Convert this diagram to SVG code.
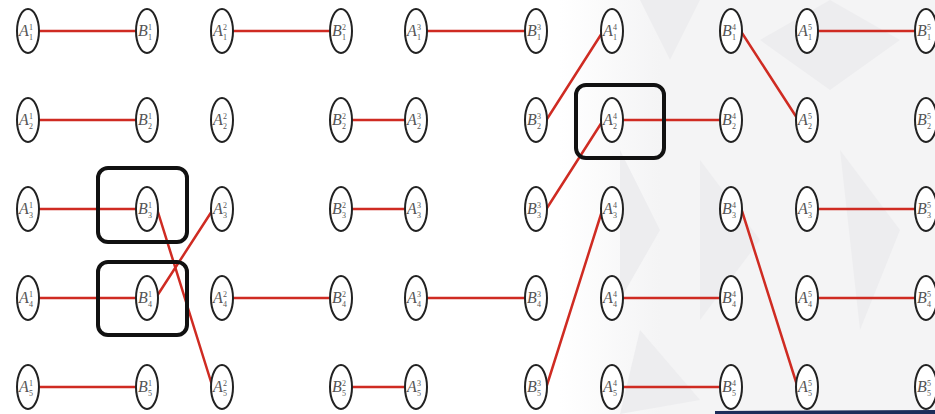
<svg xmlns="http://www.w3.org/2000/svg" width="935" height="414" viewBox="0 0 935 414">
<style>
.L{font-family:"Liberation Serif",serif;font-style:italic;font-size:16px;fill:#555}
.s{font-family:"Liberation Serif",serif;font-size:8px;fill:#555}
.e line{stroke:#cf2b22;stroke-width:2.5;stroke-linecap:round}
.box{fill:none;stroke:#111;stroke-width:4}
.bg2{fill:#ededef}
</style>
<defs>
<ellipse id="ov" rx="11" ry="22" fill="#fff" stroke="#222" stroke-width="2"/>
<linearGradient id="fade" x1="560" y1="0" x2="660" y2="0" gradientUnits="userSpaceOnUse">
<stop offset="0" stop-color="#f4f4f5" stop-opacity="0"/>
<stop offset="1" stop-color="#f4f4f5" stop-opacity="1"/>
</linearGradient>
</defs>
<rect width="935" height="414" fill="#fff"/>
<g id="background">
<rect x="560" y="0" width="375" height="414" fill="url(#fade)"/>
<polygon class="bg2" points="640,0 700,0 670,60"/>
<polygon class="bg2" points="760,40 830,0 900,40 830,90"/>
<polygon class="bg2" points="620,150 660,230 620,300"/>
<polygon class="bg2" points="700,160 760,240 700,320"/>
<polygon class="bg2" points="840,150 900,230 860,330"/>
<polygon class="bg2" points="640,330 700,400 620,414"/>
<polygon fill="#1c2d5a" points="715,411 935,410 935,414 715,414"/>
</g>
<g id="connectors" class="e">
<line x1="39" y1="31" x2="136" y2="31"/>
<line x1="39" y1="120" x2="136" y2="120"/>
<line x1="39" y1="209" x2="136" y2="209"/>
<line x1="39" y1="298" x2="136" y2="298"/>
<line x1="39" y1="387" x2="136" y2="387"/>
<line x1="157" y1="209" x2="212" y2="385"/>
<line x1="157" y1="296" x2="212" y2="211"/>
<line x1="233" y1="31" x2="330" y2="31"/>
<line x1="233" y1="298" x2="330" y2="298"/>
<line x1="352" y1="120" x2="405" y2="120"/>
<line x1="352" y1="209" x2="405" y2="209"/>
<line x1="352" y1="387" x2="405" y2="387"/>
<line x1="427" y1="31" x2="525" y2="31"/>
<line x1="427" y1="298" x2="525" y2="298"/>
<line x1="547" y1="119" x2="602" y2="33"/>
<line x1="547" y1="208" x2="602" y2="122"/>
<line x1="547" y1="385" x2="602" y2="211"/>
<line x1="623" y1="120" x2="720" y2="120"/>
<line x1="623" y1="298" x2="720" y2="298"/>
<line x1="623" y1="387" x2="720" y2="387"/>
<line x1="742" y1="33" x2="797" y2="118"/>
<line x1="742" y1="211" x2="797" y2="385"/>
<line x1="818" y1="31" x2="915" y2="31"/>
<line x1="818" y1="209" x2="915" y2="209"/>
<line x1="818" y1="298" x2="915" y2="298"/>
</g>
<g id="nodes">
<g id="A1_1" transform="translate(28,31)"><use href="#ov"/><text class="L" x="-9" y="5">A</text><text class="s" x="1" y="-1">1</text><text class="s" x="1" y="9">1</text></g>
<g id="A1_2" transform="translate(28,120)"><use href="#ov"/><text class="L" x="-9" y="5">A</text><text class="s" x="1" y="-1">1</text><text class="s" x="1" y="9">2</text></g>
<g id="A1_3" transform="translate(28,209)"><use href="#ov"/><text class="L" x="-9" y="5">A</text><text class="s" x="1" y="-1">1</text><text class="s" x="1" y="9">3</text></g>
<g id="A1_4" transform="translate(28,298)"><use href="#ov"/><text class="L" x="-9" y="5">A</text><text class="s" x="1" y="-1">1</text><text class="s" x="1" y="9">4</text></g>
<g id="A1_5" transform="translate(28,387)"><use href="#ov"/><text class="L" x="-9" y="5">A</text><text class="s" x="1" y="-1">1</text><text class="s" x="1" y="9">5</text></g>
<g id="B1_1" transform="translate(147,31)"><use href="#ov"/><text class="L" x="-9" y="5">B</text><text class="s" x="1" y="-1">1</text><text class="s" x="1" y="9">1</text></g>
<g id="B1_2" transform="translate(147,120)"><use href="#ov"/><text class="L" x="-9" y="5">B</text><text class="s" x="1" y="-1">1</text><text class="s" x="1" y="9">2</text></g>
<g id="B1_3" transform="translate(147,209)"><use href="#ov"/><text class="L" x="-9" y="5">B</text><text class="s" x="1" y="-1">1</text><text class="s" x="1" y="9">3</text></g>
<g id="B1_4" transform="translate(147,298)"><use href="#ov"/><text class="L" x="-9" y="5">B</text><text class="s" x="1" y="-1">1</text><text class="s" x="1" y="9">4</text></g>
<g id="B1_5" transform="translate(147,387)"><use href="#ov"/><text class="L" x="-9" y="5">B</text><text class="s" x="1" y="-1">1</text><text class="s" x="1" y="9">5</text></g>
<g id="A2_1" transform="translate(222,31)"><use href="#ov"/><text class="L" x="-9" y="5">A</text><text class="s" x="1" y="-1">2</text><text class="s" x="1" y="9">1</text></g>
<g id="A2_2" transform="translate(222,120)"><use href="#ov"/><text class="L" x="-9" y="5">A</text><text class="s" x="1" y="-1">2</text><text class="s" x="1" y="9">2</text></g>
<g id="A2_3" transform="translate(222,209)"><use href="#ov"/><text class="L" x="-9" y="5">A</text><text class="s" x="1" y="-1">2</text><text class="s" x="1" y="9">3</text></g>
<g id="A2_4" transform="translate(222,298)"><use href="#ov"/><text class="L" x="-9" y="5">A</text><text class="s" x="1" y="-1">2</text><text class="s" x="1" y="9">4</text></g>
<g id="A2_5" transform="translate(222,387)"><use href="#ov"/><text class="L" x="-9" y="5">A</text><text class="s" x="1" y="-1">2</text><text class="s" x="1" y="9">5</text></g>
<g id="B2_1" transform="translate(341,31)"><use href="#ov"/><text class="L" x="-9" y="5">B</text><text class="s" x="1" y="-1">2</text><text class="s" x="1" y="9">1</text></g>
<g id="B2_2" transform="translate(341,120)"><use href="#ov"/><text class="L" x="-9" y="5">B</text><text class="s" x="1" y="-1">2</text><text class="s" x="1" y="9">2</text></g>
<g id="B2_3" transform="translate(341,209)"><use href="#ov"/><text class="L" x="-9" y="5">B</text><text class="s" x="1" y="-1">2</text><text class="s" x="1" y="9">3</text></g>
<g id="B2_4" transform="translate(341,298)"><use href="#ov"/><text class="L" x="-9" y="5">B</text><text class="s" x="1" y="-1">2</text><text class="s" x="1" y="9">4</text></g>
<g id="B2_5" transform="translate(341,387)"><use href="#ov"/><text class="L" x="-9" y="5">B</text><text class="s" x="1" y="-1">2</text><text class="s" x="1" y="9">5</text></g>
<g id="A3_1" transform="translate(416,31)"><use href="#ov"/><text class="L" x="-9" y="5">A</text><text class="s" x="1" y="-1">3</text><text class="s" x="1" y="9">1</text></g>
<g id="A3_2" transform="translate(416,120)"><use href="#ov"/><text class="L" x="-9" y="5">A</text><text class="s" x="1" y="-1">3</text><text class="s" x="1" y="9">2</text></g>
<g id="A3_3" transform="translate(416,209)"><use href="#ov"/><text class="L" x="-9" y="5">A</text><text class="s" x="1" y="-1">3</text><text class="s" x="1" y="9">3</text></g>
<g id="A3_4" transform="translate(416,298)"><use href="#ov"/><text class="L" x="-9" y="5">A</text><text class="s" x="1" y="-1">3</text><text class="s" x="1" y="9">4</text></g>
<g id="A3_5" transform="translate(416,387)"><use href="#ov"/><text class="L" x="-9" y="5">A</text><text class="s" x="1" y="-1">3</text><text class="s" x="1" y="9">5</text></g>
<g id="B3_1" transform="translate(536,31)"><use href="#ov"/><text class="L" x="-9" y="5">B</text><text class="s" x="1" y="-1">3</text><text class="s" x="1" y="9">1</text></g>
<g id="B3_2" transform="translate(536,120)"><use href="#ov"/><text class="L" x="-9" y="5">B</text><text class="s" x="1" y="-1">3</text><text class="s" x="1" y="9">2</text></g>
<g id="B3_3" transform="translate(536,209)"><use href="#ov"/><text class="L" x="-9" y="5">B</text><text class="s" x="1" y="-1">3</text><text class="s" x="1" y="9">3</text></g>
<g id="B3_4" transform="translate(536,298)"><use href="#ov"/><text class="L" x="-9" y="5">B</text><text class="s" x="1" y="-1">3</text><text class="s" x="1" y="9">4</text></g>
<g id="B3_5" transform="translate(536,387)"><use href="#ov"/><text class="L" x="-9" y="5">B</text><text class="s" x="1" y="-1">3</text><text class="s" x="1" y="9">5</text></g>
<g id="A4_1" transform="translate(612,31)"><use href="#ov"/><text class="L" x="-9" y="5">A</text><text class="s" x="1" y="-1">4</text><text class="s" x="1" y="9">1</text></g>
<g id="A4_2" transform="translate(612,120)"><use href="#ov"/><text class="L" x="-9" y="5">A</text><text class="s" x="1" y="-1">4</text><text class="s" x="1" y="9">2</text></g>
<g id="A4_3" transform="translate(612,209)"><use href="#ov"/><text class="L" x="-9" y="5">A</text><text class="s" x="1" y="-1">4</text><text class="s" x="1" y="9">3</text></g>
<g id="A4_4" transform="translate(612,298)"><use href="#ov"/><text class="L" x="-9" y="5">A</text><text class="s" x="1" y="-1">4</text><text class="s" x="1" y="9">4</text></g>
<g id="A4_5" transform="translate(612,387)"><use href="#ov"/><text class="L" x="-9" y="5">A</text><text class="s" x="1" y="-1">4</text><text class="s" x="1" y="9">5</text></g>
<g id="B4_1" transform="translate(731,31)"><use href="#ov"/><text class="L" x="-9" y="5">B</text><text class="s" x="1" y="-1">4</text><text class="s" x="1" y="9">1</text></g>
<g id="B4_2" transform="translate(731,120)"><use href="#ov"/><text class="L" x="-9" y="5">B</text><text class="s" x="1" y="-1">4</text><text class="s" x="1" y="9">2</text></g>
<g id="B4_3" transform="translate(731,209)"><use href="#ov"/><text class="L" x="-9" y="5">B</text><text class="s" x="1" y="-1">4</text><text class="s" x="1" y="9">3</text></g>
<g id="B4_4" transform="translate(731,298)"><use href="#ov"/><text class="L" x="-9" y="5">B</text><text class="s" x="1" y="-1">4</text><text class="s" x="1" y="9">4</text></g>
<g id="B4_5" transform="translate(731,387)"><use href="#ov"/><text class="L" x="-9" y="5">B</text><text class="s" x="1" y="-1">4</text><text class="s" x="1" y="9">5</text></g>
<g id="A5_1" transform="translate(807,31)"><use href="#ov"/><text class="L" x="-9" y="5">A</text><text class="s" x="1" y="-1">5</text><text class="s" x="1" y="9">1</text></g>
<g id="A5_2" transform="translate(807,120)"><use href="#ov"/><text class="L" x="-9" y="5">A</text><text class="s" x="1" y="-1">5</text><text class="s" x="1" y="9">2</text></g>
<g id="A5_3" transform="translate(807,209)"><use href="#ov"/><text class="L" x="-9" y="5">A</text><text class="s" x="1" y="-1">5</text><text class="s" x="1" y="9">3</text></g>
<g id="A5_4" transform="translate(807,298)"><use href="#ov"/><text class="L" x="-9" y="5">A</text><text class="s" x="1" y="-1">5</text><text class="s" x="1" y="9">4</text></g>
<g id="A5_5" transform="translate(807,387)"><use href="#ov"/><text class="L" x="-9" y="5">A</text><text class="s" x="1" y="-1">5</text><text class="s" x="1" y="9">5</text></g>
<g id="B5_1" transform="translate(926,31)"><use href="#ov"/><text class="L" x="-9" y="5">B</text><text class="s" x="1" y="-1">5</text><text class="s" x="1" y="9">1</text></g>
<g id="B5_2" transform="translate(926,120)"><use href="#ov"/><text class="L" x="-9" y="5">B</text><text class="s" x="1" y="-1">5</text><text class="s" x="1" y="9">2</text></g>
<g id="B5_3" transform="translate(926,209)"><use href="#ov"/><text class="L" x="-9" y="5">B</text><text class="s" x="1" y="-1">5</text><text class="s" x="1" y="9">3</text></g>
<g id="B5_4" transform="translate(926,298)"><use href="#ov"/><text class="L" x="-9" y="5">B</text><text class="s" x="1" y="-1">5</text><text class="s" x="1" y="9">4</text></g>
<g id="B5_5" transform="translate(926,387)"><use href="#ov"/><text class="L" x="-9" y="5">B</text><text class="s" x="1" y="-1">5</text><text class="s" x="1" y="9">5</text></g>
</g>
<g id="highlights">
<rect class="box" x="98" y="168" width="89" height="74" rx="10"/>
<rect class="box" x="98" y="262" width="89" height="73" rx="10"/>
<rect class="box" x="576" y="85" width="88" height="73" rx="10"/>
</g>
</svg>
